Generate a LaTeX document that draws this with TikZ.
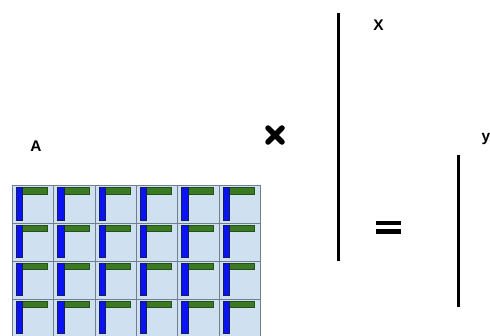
\documentclass[tikz,border=0pt]{standalone}
\usepackage{fontspec}
\setmainfont{Liberation Sans}
\definecolor{cellfill}{HTML}{CFE0F1}
\definecolor{gridcol}{HTML}{6F7F8F}
\definecolor{barGreen}{HTML}{3B7A22}
\definecolor{barGreenDark}{HTML}{24501A}
\definecolor{barBlue}{HTML}{0A14F0}
\definecolor{barBlueDark}{HTML}{1A1A60}
\tikzset{
  cellbox/.style={fill=cellfill, draw=gridcol, line width=0.8bp},
  greenbar/.style={fill=barGreen, draw=barGreenDark, line width=0.7bp},
  bluebar/.style={fill=barBlue, draw=barBlueDark, line width=0.7bp},
  lbl/.style={font=\fontsize{15.5}{17}\selectfont\bfseries, inner sep=0pt},
  vecline/.style={line width=3.4bp, black},
  opbar/.style={line width=4.4bp, black},
  crossline/.style={line width=5.5bp, black, line cap=round}
}
\begin{document}
\begin{tikzpicture}[x=1bp, y=-1bp]
\useasboundingbox (0,0) rectangle (490,335);
\begin{scope}
\clip (0,0) rectangle (490,335);
\foreach \c in {0,...,5} {
  \foreach \r in {0,...,4} {
    \pgfmathsetmacro{\xl}{12.3+41.33*\c}
    \pgfmathsetmacro{\yt}{185.7+37.8*\r}
    \draw[cellbox] (\xl,\yt) rectangle ++(41.33,37.8);
  }
}
\foreach \c in {0,...,5} {
  \foreach \r in {0,...,4} {
    \pgfmathsetmacro{\xl}{12.3+41.33*\c}
    \pgfmathsetmacro{\yt}{185.7+37.8*\r}
    \draw[greenbar] (\xl+5,\yt+1.8) rectangle ++(30.5,6.4);
    \draw[bluebar] (\xl+4,\yt+1.8) rectangle ++(6.3,32.5);
  }
}
\end{scope}
\node[lbl, anchor=base] (labA) at (36,151.3) {A};
\node[lbl, anchor=base] (labX) at (378.5,30.7) {X};
\node[lbl, anchor=base west] (labY) at (481.3,141.5) {y};
% multiplication cross
\draw[crossline] (268,128) -- (282,142);
\draw[crossline] (282,128) -- (268,142);
% vector X
\draw[vecline] (338.5,12.5) -- (338.5,261);
% equals sign
\draw[opbar] (376,222.8) -- (401,222.8);
\draw[opbar] (376,231.3) -- (401,231.3);
% vector y
\draw[vecline] (458.5,155) -- (458.5,307);
\end{tikzpicture}
\end{document}
